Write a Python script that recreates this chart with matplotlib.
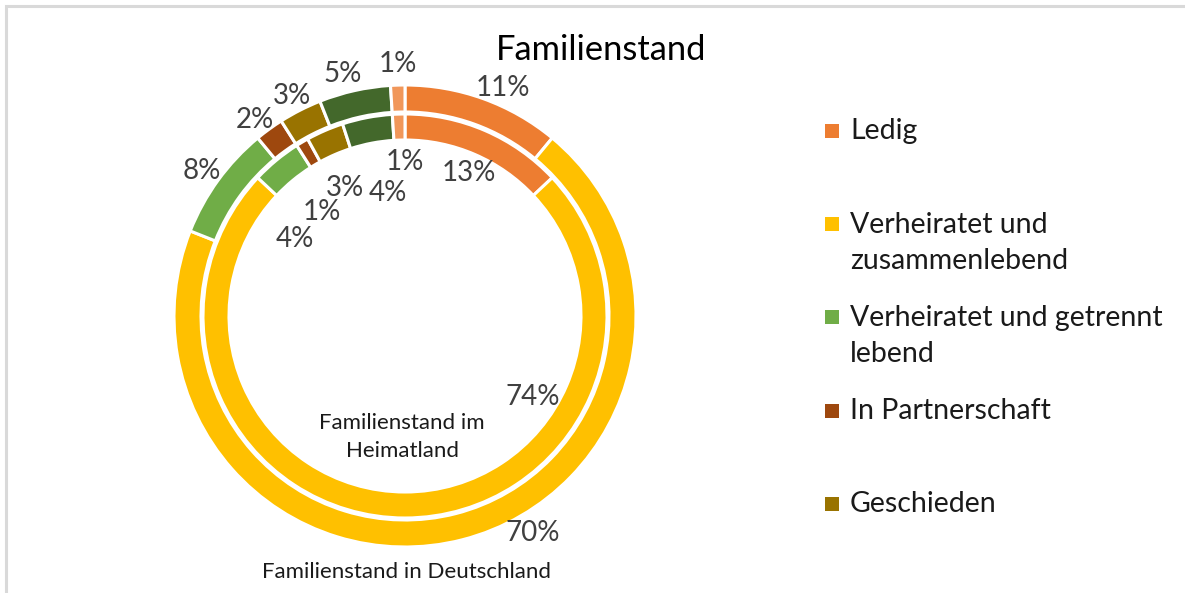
import matplotlib
matplotlib.use("Agg")
import matplotlib.pyplot as plt
from matplotlib.patches import Rectangle

plt.rcParams["font.family"] = ["Lato", "DejaVu Sans"]

# Daten (Anteile in %)
kategorien = ["Ledig", "Verheiratet und\nzusammenlebend", "Verheiratet und getrennt\nlebend",
              "In Partnerschaft", "Geschieden", "Verwitwet", "Sonstiges"]
deutschland = [11, 70, 8, 2, 3, 5, 1]   # äußerer Ring
heimatland = [13, 74, 4, 1, 3, 4, 1]    # innerer Ring
farben = ["#ED7D31", "#FFC000", "#70AD47", "#9E480E", "#997300", "#43682B", "#F1975A"]

# Beschriftungspositionen in Pixeln (x, y von oben)
pos_aussen = [(503, 88), (533, 533), (202, 171), (255, 120), (292, 96), (343, 74), (398, 64)]
pos_innen = [(469, 173), (533, 397), (295, 239), (322, 212), (345, 188), (388, 193), (405, 162)]

W, H = 1185, 593
fig = plt.figure(figsize=(W / 100, H / 100), dpi=100)
ax = fig.add_axes([0, 0, 1, 1])

def py(y):
    return H - y

cx, cy = 405, py(316)
ax.pie(deutschland, colors=farben, radius=231, center=(cx, cy), startangle=90, counterclock=False,
       wedgeprops=dict(width=27, edgecolor="white", linewidth=2.2), frame=True)
ax.pie(heimatland, colors=farben, radius=202, center=(cx, cy), startangle=90, counterclock=False,
       wedgeprops=dict(width=26, edgecolor="white", linewidth=2.2), frame=True)
ax.set_xlim(0, W)
ax.set_ylim(0, H)
ax.axis("off")

for v, (x, y) in zip(deutschland, pos_aussen):
    ax.text(x, py(y), f"{v}%", ha="center", va="center", fontsize=20, color="#404040")
for v, (x, y) in zip(heimatland, pos_innen):
    ax.text(x, py(y), f"{v}%", ha="center", va="center", fontsize=20, color="#404040")

ax.text(402, py(437), "Familienstand im\nHeimatland", ha="center", va="center",
        fontsize=16, color="#1a1a1a", linespacing=1.5)
ax.text(407, py(572), "Familienstand in Deutschland", ha="center", va="center",
        fontsize=16, color="#1a1a1a")

ax.text(601, py(50), "Familienstand", ha="center", va="center", fontsize=24.8, color="black")

# Legende (nur die ersten fünf Einträge sichtbar, wie im Original)
for i in range(5):
    y0 = 131 + i * 93.2
    ax.add_patch(Rectangle((825, py(y0) - 7), 14, 14, color=farben[i], lw=0))
    ax.text(850, py(y0) + 12.5, kategorien[i], ha="left", va="top", fontsize=20.5,
            color="#1a1a1a", linespacing=1.5)

# Rahmen
fig.add_artist(Rectangle((6 / W, -0.1), 1.2, (H - 6) / H + 0.1, transform=fig.transFigure,
                         fill=False, edgecolor="#D9D9D9", linewidth=2.2))

fig.savefig("out.png", dpi=100)
